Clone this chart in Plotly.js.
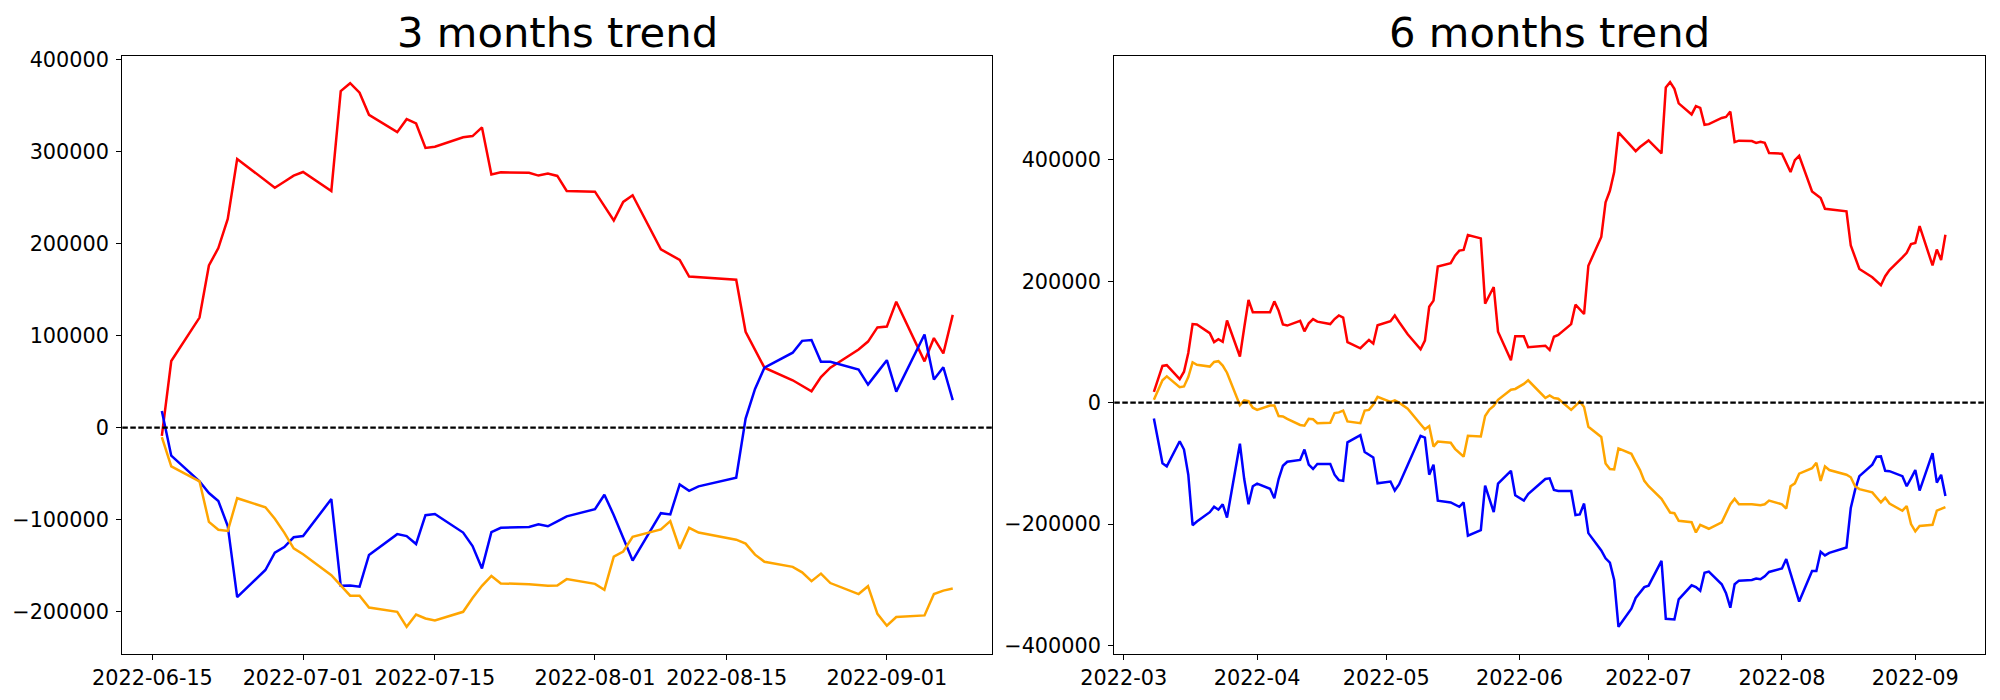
<!DOCTYPE html>
<html>
<head>
<meta charset="utf-8">
<script src="https://cdn.plot.ly/plotly-3.0.1.min.js"></script>
<style>
  html, body { margin: 0; padding: 0; background: #ffffff; }
  #chart { width: 2000px; height: 700px; }
</style>
</head>
<body>
<div id="chart"></div>
<script>
// ---------- 3 months trend (left panel) ----------
const datesLeft = [
  '2022-06-16','2022-06-17','2022-06-20','2022-06-21','2022-06-22','2022-06-23','2022-06-24','2022-06-27','2022-06-28','2022-06-29','2022-06-30',
  '2022-07-01','2022-07-04','2022-07-05','2022-07-06','2022-07-07','2022-07-08','2022-07-11','2022-07-12','2022-07-13','2022-07-14','2022-07-15',
  '2022-07-18','2022-07-19','2022-07-20','2022-07-21','2022-07-22','2022-07-25','2022-07-26','2022-07-27','2022-07-28','2022-07-29',
  '2022-08-01','2022-08-02','2022-08-03','2022-08-04','2022-08-05','2022-08-08','2022-08-09','2022-08-10','2022-08-11','2022-08-12',
  '2022-08-16','2022-08-17','2022-08-18','2022-08-19','2022-08-22','2022-08-23','2022-08-24','2022-08-25','2022-08-26','2022-08-29','2022-08-30','2022-08-31',
  '2022-09-01','2022-09-02','2022-09-05','2022-09-06','2022-09-07','2022-09-08'
];
const redLeft = [
  -9000, 72500, 119700, 176400, 195300, 227000, 292300, 269000, 261000, 267500, 274200,
  278100, 257500, 366100, 374700, 364400, 340300, 321500, 335600, 330900, 304300, 305600,
  315900, 317200, 326600, 275500, 277700, 277300, 274200, 276400, 273800, 257500,
  256700, 241000, 225300, 245500, 252800, 194000, 188000, 182400, 164400, 163700,
  160900, 104300, 84100, 65200, 51500, 45500, 39500, 54900, 65200, 85000, 93600, 109000,
  109900, 136900, 72100, 97400, 80700, 122700
];
const blueLeft = [
  18000, -30500, -58400, -71200, -79800, -107000, -184500, -154900, -136100, -130000, -119300,
  -118000, -77700, -172100, -171700, -173000, -138600, -115900, -118000, -126600, -95300, -94000,
  -114200, -128800, -153200, -113700, -109000, -108200, -105200, -107300, -102000, -96600,
  -88800, -73000, -95300, -120000, -144600, -93100, -94400, -61800, -68700, -63900,
  -54500, 9900, 42100, 65200, 81500, 94400, 95300, 71700, 71700, 63100, 46800, 60100,
  73400, 39100, 101300, 52400, 65700, 30000
];
const orangeLeft = [
  -10300, -42100, -58400, -102600, -111200, -112400, -76800, -86700, -99100, -114200, -131300,
  -137800, -160500, -171200, -182800, -182800, -195700, -200400, -216700, -203400, -207700, -209900,
  -200400, -185400, -172100, -161400, -169500, -170400, -171200, -172000, -171700, -164800,
  -170000, -176400, -140300, -134800, -118900, -110700, -101700, -131800, -109000, -114200,
  -121900, -126200, -138200, -145900, -151500, -157500, -167000, -158800, -169100, -181100, -172500, -202600,
  -215500, -206000, -204300, -181100, -177300, -175100
];

// ---------- 6 months trend (right panel) ----------
const datesRight = [
  '2022-03-08','2022-03-10','2022-03-11','2022-03-14','2022-03-15','2022-03-16','2022-03-17','2022-03-18','2022-03-21','2022-03-22','2022-03-23','2022-03-24','2022-03-25','2022-03-28','2022-03-29','2022-03-30','2022-03-31',
  '2022-04-01','2022-04-04','2022-04-05','2022-04-06','2022-04-07','2022-04-08','2022-04-11','2022-04-12','2022-04-13','2022-04-14','2022-04-15','2022-04-18','2022-04-19','2022-04-20','2022-04-21','2022-04-22','2022-04-25','2022-04-26','2022-04-27','2022-04-28','2022-04-29',
  '2022-05-02','2022-05-03','2022-05-04','2022-05-06','2022-05-09','2022-05-10','2022-05-11','2022-05-12','2022-05-13','2022-05-16','2022-05-17','2022-05-18','2022-05-19','2022-05-20','2022-05-23','2022-05-24','2022-05-25','2022-05-26','2022-05-27','2022-05-30','2022-05-31',
  '2022-06-02','2022-06-03','2022-06-07','2022-06-08','2022-06-09','2022-06-10','2022-06-13','2022-06-14','2022-06-15','2022-06-16','2022-06-17','2022-06-20','2022-06-21','2022-06-22','2022-06-23','2022-06-24','2022-06-27','2022-06-28','2022-06-29','2022-06-30',
  '2022-07-01','2022-07-04','2022-07-05','2022-07-06','2022-07-07','2022-07-08','2022-07-11','2022-07-12','2022-07-13','2022-07-14','2022-07-15','2022-07-18','2022-07-19','2022-07-20','2022-07-21','2022-07-22','2022-07-25','2022-07-26','2022-07-27','2022-07-28','2022-07-29',
  '2022-08-01','2022-08-02','2022-08-03','2022-08-04','2022-08-05','2022-08-08','2022-08-09','2022-08-10','2022-08-11','2022-08-12','2022-08-16','2022-08-17','2022-08-18','2022-08-19','2022-08-22','2022-08-23','2022-08-24','2022-08-25','2022-08-26','2022-08-29','2022-08-30','2022-08-31',
  '2022-09-01','2022-09-02','2022-09-05','2022-09-06','2022-09-07','2022-09-08'
];
const redRight = [
  17800, 60500, 61700, 38600, 51000, 81900, 129400, 128800, 114500, 99700, 104500, 100300, 135300, 76000, 123400, 169100, 149000,
  149000, 149000, 166800, 151300, 128800, 127000, 134700, 117500, 130600, 137700, 133500, 129400, 137700, 143600, 140100, 99700, 89600, 96100, 103300, 97300, 127600,
  134100, 143600, 132900, 112700, 87800, 102100, 157900, 168000, 224300, 229700, 242100, 250500, 251600, 276000, 270600, 163200, 176900, 190500, 116900, 70000, 109200,
  109200, 91400, 93800, 86700, 108600, 111600, 129400, 161400, 153100, 146000, 225500, 273000, 330000, 349000, 379800, 445100, 422000, 414300, 421000, 427300,
  432000, 410700, 519000, 528000, 517000, 493000, 474800, 488500, 485500, 457600, 458800, 468900, 470600, 479500, 429100, 431500, 430900, 427900, 429700, 427900, 411300,
  410100, 394700, 379800, 399400, 406500, 347800, 342400, 337100, 319300, 318700, 315100, 258800, 239200, 220200, 206500, 200000, 193400, 208300, 218400, 239200, 246900, 261100,
  262900, 290800, 226100, 252200, 235000, 276600
];
const blueRight = [
  -26100, -99700, -105000, -63500, -77200, -118700, -201800, -195900, -180400, -171500, -176300, -167400, -189300, -67700, -125800, -167400, -137700,
  -133500, -141800, -157300, -125800, -103900, -97300, -94400, -77200, -102100, -109200, -100900, -100900, -118700, -127600, -128800, -65300, -53400, -81300, -85500, -90200, -132900,
  -130000, -144800, -134700, -102700, -54600, -57600, -118700, -102100, -161400, -164400, -168600, -171500, -164400, -219000, -210100, -136500, -158500, -180400, -133500, -112200, -152500,
  -161400, -150700, -125800, -124600, -143600, -145400, -145400, -185200, -184000, -166200, -214900, -243400, -256400, -263500, -292000, -369200, -339500, -321700, -312800, -303900,
  -301500, -260500, -356000, -356000, -357000, -324000, -300900, -303900, -309800, -280100, -278300, -299100, -313900, -337700, -299100, -293200, -292000, -289600, -290800, -286000, -278900,
  -273000, -257600, -281300, -304500, -327600, -277200, -277200, -245700, -251600, -247500, -238600, -173300, -143600, -121100, -102100, -89000, -88500, -112200, -112800, -121100, -137700, -124600,
  -111000, -144800, -83100, -131800, -118700, -153700
];
const orangeRight = [
  4700, 36800, 43300, 25500, 26700, 42100, 66500, 62300, 59400, 67100, 68300, 61100, 49300, -4200, 3600, 2400, -8300,
  -11900, -4700, -4700, -22000, -22600, -26700, -36800, -38000, -26700, -27300, -33800, -33200, -17200, -16000, -13100, -30900, -33800, -13100, -11900, -3000, 9500,
  1200, 3600, 0, -10100, -35600, -43900, -38600, -72400, -64100, -65900, -76000, -82500, -89000, -54600, -55800, -22000, -11300, -5300, 4700, 21400, 22600,
  30900, 36800, 7700, 11900, 7700, 6500, -11900, -4700, 1800, -7100, -39800, -56400, -100300, -109200, -109800, -75400, -84300, -97900, -111000, -128800,
  -137700, -158500, -170000, -181000, -182000, -194700, -197000, -213700, -201200, -204800, -207700, -197000, -182200, -167400, -158500, -167400, -167400, -168000, -169100, -167400, -161400,
  -167400, -174500, -137700, -132900, -116900, -108000, -99100, -128800, -105000, -111000, -118700, -122900, -137700, -142400, -147800, -155500, -164400, -156700, -166200, -178000, -170300, -200000,
  -211900, -203000, -201200, -178000, -174500, -172100
];

// ---------- ticks & titles ----------
const leftXTicks = ['2022-06-15','2022-07-01','2022-07-15','2022-08-01','2022-08-15','2022-09-01'];
const rightXTicks = ['2022-03-01','2022-04-01','2022-05-01','2022-06-01','2022-07-01','2022-08-01','2022-09-01'];
const leftYTicks = [-200000, -100000, 0, 100000, 200000, 300000, 400000];
const rightYTicks = [-400000, -200000, 0, 200000, 400000];
const panelTitles = ['3 months trend', '6 months trend'];

const RED = '#ff0000', BLUE = '#0000ff', ORANGE = '#ffa500';
const LW = 2.5;

function line(x, y, color, xa, ya) {
  return { x: x, y: y, type: 'scatter', mode: 'lines', xaxis: xa, yaxis: ya,
           line: { color: color, width: LW }, hoverinfo: 'skip' };
}

const traces = [
  line(datesLeft, redLeft, RED, 'x', 'y'),
  line(datesLeft, blueLeft, BLUE, 'x', 'y'),
  line(datesLeft, orangeLeft, ORANGE, 'x', 'y'),
  line(datesRight, redRight, RED, 'x2', 'y2'),
  line(datesRight, blueRight, BLUE, 'x2', 'y2'),
  line(datesRight, orangeRight, ORANGE, 'x2', 'y2')
];

const FONT = 'DejaVu Sans';
const TICKSIZE = 20.8;

function xAxis(domain, range, ticks, fmt, anchor) {
  return {
    domain: domain, type: 'date', range: range, anchor: anchor,
    tickmode: 'array', tickvals: ticks, tickformat: fmt,
    ticks: 'outside', ticklen: 5, tickwidth: 1, tickcolor: '#000',
    showline: true, linecolor: '#000', linewidth: 1.1, mirror: true,
    showgrid: false, zeroline: false,
    tickfont: { family: FONT, size: TICKSIZE, color: '#000' }
  };
}
function yAxis(domain, range, ticks, anchor) {
  return {
    domain: domain, range: range, anchor: anchor,
    tickmode: 'array', tickvals: ticks, tickformat: 'd',
    ticks: 'outside', ticklen: 5, tickwidth: 1, tickcolor: '#000',
    ticklabelstandoff: 3,
    showline: true, linecolor: '#000', linewidth: 1.1, mirror: true,
    showgrid: false, zeroline: false,
    tickfont: { family: FONT, size: TICKSIZE, color: '#000' }
  };
}

const yDom = [46 / 700, 644 / 700];

const layout = {
  width: 2000, height: 700,
  margin: { l: 0, r: 0, t: 0, b: 0 },
  paper_bgcolor: '#ffffff', plot_bgcolor: '#ffffff',
  showlegend: false,
  font: { family: FONT, size: TICKSIZE, color: '#000' },
  xaxis: xAxis([122.3 / 2000, 992.3 / 2000], ['2022-06-11 19:12', '2022-09-12 04:48'], leftXTicks, '%Y-%m-%d', 'y'),
  yaxis: yAxis(yDom, [-246300, 404300], leftYTicks, 'x'),
  xaxis2: xAxis([1114.3 / 2000, 1985 / 2000], ['2022-02-26 19:12', '2022-09-17 04:48'], rightXTicks, '%Y-%m', 'y2'),
  yaxis2: yAxis(yDom, [-414000, 571000], rightYTicks, 'x2'),
  shapes: [
    { type: 'line', xref: 'x domain', yref: 'y', x0: 0, x1: 1, y0: 0, y1: 0, layer: 'above',
      line: { color: '#000', width: 2.1, dash: '5.5px,2.5px' } },
    { type: 'line', xref: 'x2 domain', yref: 'y2', x0: 0, x1: 1, y0: 0, y1: 0, layer: 'above',
      line: { color: '#000', width: 2.1, dash: '5.5px,2.5px' } }
  ],
  annotations: [
    { text: panelTitles[0], xref: 'x domain', yref: 'paper', x: 0.5, y: yDom[1], xanchor: 'center', yanchor: 'bottom', yshift: -3,
      showarrow: false, font: { family: FONT, size: 41.7, color: '#000' } },
    { text: panelTitles[1], xref: 'x2 domain', yref: 'paper', x: 0.5, y: yDom[1], xanchor: 'center', yanchor: 'bottom', yshift: -3,
      showarrow: false, font: { family: FONT, size: 41.7, color: '#000' } }
  ]
};

Plotly.newPlot('chart', traces, layout, { staticPlot: true, displayModeBar: false });
</script>
</body>
</html>
